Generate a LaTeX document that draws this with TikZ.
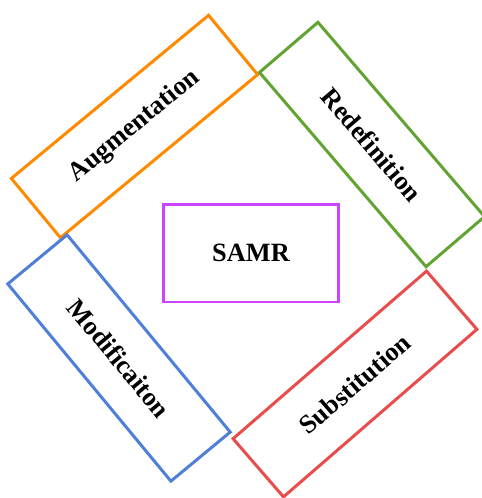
\documentclass[tikz,border=0pt]{standalone}
\usepackage{fontspec}
\setmainfont{Liberation Serif}
\usepackage{tikz}
\definecolor{samrOrange}{RGB}{255,138,0}
\definecolor{samrGreen}{RGB}{98,163,50}
\definecolor{samrBlue}{RGB}{79,127,214}
\definecolor{samrRed}{RGB}{232,76,76}
\definecolor{samrViolet}{RGB}{204,68,255}
\tikzset{
  samrStage/.style={draw, line width=1.7pt, rounded corners=0pt,
    minimum width=5.12cm, minimum height=1.54cm, inner sep=0pt,
    font=\fontsize{15}{18}\selectfont\bfseries, align=center},
  samrCore/.style={draw=samrViolet, line width=1.7pt,
    minimum width=3.52cm, minimum height=1.96cm, inner sep=0pt,
    font=\fontsize{15}{18}\selectfont\bfseries, align=center},
}

\begin{document}
\begin{tikzpicture}[x=0.02cm, y=-0.02cm]
\useasboundingbox (0,0) rectangle (482,498);

\node[samrCore] (pCore) at (251,253) {SAMR};

\node[samrStage, draw=samrOrange, rotate=39.6]  (pAug) at (134.5,126.5) {Augmentation};
\node[samrStage, draw=samrGreen,  rotate=-49.4] (pRed) at (372,144.5)   {Redefinition};
\node[samrStage, draw=samrBlue,   rotate=-50.4] (pMod) at (119,358)     {Modificaiton};
\node[samrStage, draw=samrRed,    rotate=40.9]  (pSub) at (355,384)     {Substitution};

\end{tikzpicture}
\end{document}
